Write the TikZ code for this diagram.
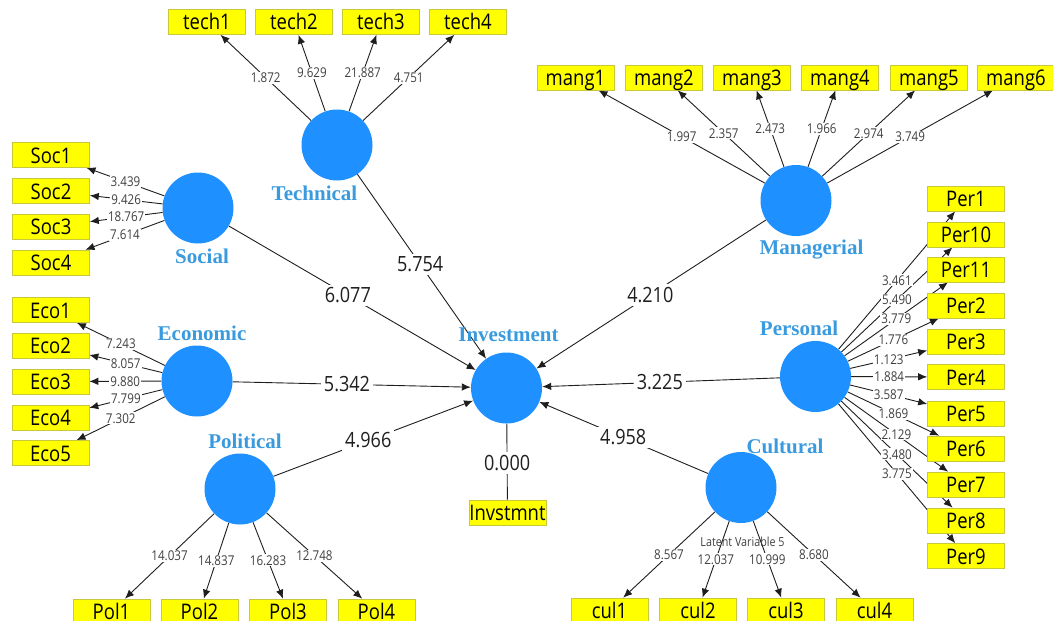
\documentclass[tikz,border=0pt]{standalone}
\usepackage{fontspec}
\setmainfont{Open Sans}
\newfontfamily\condfont[FakeStretch=0.86]{Open Sans}
\newfontfamily\lvfont{Liberation Serif}
\usetikzlibrary{arrows.meta}
\pgfdeclarelayer{edges}
\pgfdeclarelayer{labels}
\pgfsetlayers{edges,main,labels}
\definecolor{lvblue}{RGB}{30,144,255}
\definecolor{lvtext}{RGB}{58,154,222}
\definecolor{indfill}{RGB}{255,255,0}
\definecolor{indborder}{RGB}{200,200,60}
\definecolor{linec}{RGB}{30,30,30}
\tikzset{
 lv/.style={circle, fill=lvblue, minimum size=71pt, inner sep=0pt},
 lvname/.style={anchor=base, text=lvtext, font=\lvfont\bfseries\fontsize{21}{21}\selectfont},
 mv/.style={rectangle, fill=indfill, draw=indborder, line width=0.6pt, minimum width=77pt, minimum height=25pt, text height=20.5pt, text depth=4.5pt, inner sep=0pt, font=\condfont\fontsize{21.5}{21.5}\selectfont},
 conn/.style={draw=linec, line width=0.9pt, -{Latex[length=9pt,width=7.5pt]}},
 plainconn/.style={draw=linec, line width=0.9pt},
 sml/.style={fill=white, inner sep=1pt, text=black!75, font=\condfont\fontsize{13.5}{13.5}\selectfont},
 big/.style={fill=white, inner sep=3pt, text=black!88, font=\condfont\fontsize{21}{21}\selectfont},
 note/.style={text=black!75, font=\condfont\fontsize{12.5}{12.5}\selectfont},
}
\newcommand\loadedge[3]{%
 \begin{pgfonlayer}{edges}\draw[conn] (#1) -- (#2);\end{pgfonlayer}%
 \begin{pgfonlayer}{labels}\path (#1) -- (#2) node[sml,pos=0.5] (w-#2) {#3};\end{pgfonlayer}}
\newcommand\pathedge[4]{%
 \begin{pgfonlayer}{edges}\draw[conn] (#1) -- (#2);\end{pgfonlayer}%
 \begin{pgfonlayer}{labels}\path (#1) -- (#2) node[big,pos=#3] (b-#1) {#4};\end{pgfonlayer}}
\begin{document}
\begin{tikzpicture}[x=1pt,y=-1pt]
\useasboundingbox (0,0) rectangle (1053,621);
% latent variables
\node[lv] (tec) at (337,145) {};
\node[lv] (soc) at (198,208) {};
\node[lv] (eco) at (197,381) {};
\node[lv] (pol) at (240,489) {};
\node[lv] (inv) at (506.5,388) {};
\node[lv] (man) at (796,200.5) {};
\node[lv] (per) at (815.5,376.5) {};
\node[lv] (cul) at (741,487.5) {};
% latent names
\node[lvname] (n-tec) at (314.5,200) {Technical};
\node[lvname] (n-soc) at (202,263) {Social};
\node[lvname] (n-eco) at (202,340) {Economic};
\node[lvname] (n-pol) at (245,448) {Political};
\node[lvname] (n-inv) at (508.5,341.5) {Investment};
\node[lvname] (n-man) at (811.5,254) {Managerial};
\node[lvname] (n-per) at (799,335.5) {Personal};
\node[lvname] (n-cul) at (785,453) {Cultural};
\node[note] (lv5) at (742.5,541.7) {Latent Variable 5};
% indicators
\node[mv] (tech1) at (207,22) {tech1};
\node[mv] (tech2) at (294,22) {tech2};
\node[mv] (tech3) at (381,22) {tech3};
\node[mv] (tech4) at (468,22) {tech4};
\node[mv] (soc1) at (51,155) {Soc1};
\node[mv] (soc2) at (51,191) {Soc2};
\node[mv] (soc3) at (51,226.5) {Soc3};
\node[mv] (soc4) at (51,262.5) {Soc4};
\node[mv] (eco1) at (50.5,310) {Eco1};
\node[mv] (eco2) at (50.5,345.5) {Eco2};
\node[mv] (eco3) at (50.5,381.5) {Eco3};
\node[mv] (eco4) at (50.5,417.5) {Eco4};
\node[mv] (eco5) at (50.5,453) {Eco5};
\node[mv] (pol1) at (111.5,611.5) {Pol1};
\node[mv] (pol2) at (199.5,611.5) {Pol2};
\node[mv] (pol3) at (288,611.5) {Pol3};
\node[mv] (pol4) at (376.5,611.5) {Pol4};
\node[mv] (cul1) at (609.5,610.5) {cul1};
\node[mv] (cul2) at (698,610.5) {cul2};
\node[mv] (cul3) at (786,610.5) {cul3};
\node[mv] (cul4) at (874.5,610.5) {cul4};
\node[mv] (mang1) at (575.5,77.5) {mang1};
\node[mv] (mang2) at (664,77.5) {mang2};
\node[mv] (mang3) at (752,77.5) {mang3};
\node[mv] (mang4) at (840,77.5) {mang4};
\node[mv] (mang5) at (929,77.5) {mang5};
\node[mv] (mang6) at (1016,77.5) {mang6};
\node[mv] (per1) at (966,198.5) {Per1};
\node[mv] (per10) at (966,234.5) {Per10};
\node[mv] (per11) at (966,269.5) {Per11};
\node[mv] (per2) at (966,305.5) {Per2};
\node[mv] (per3) at (966,341.5) {Per3};
\node[mv] (per4) at (966,377) {Per4};
\node[mv] (per5) at (966,413.5) {Per5};
\node[mv] (per6) at (966,448.5) {Per6};
\node[mv] (per7) at (966,484.5) {Per7};
\node[mv] (per8) at (966,520.5) {Per8};
\node[mv] (per9) at (966,556) {Per9};
\node[mv] (invm) at (507.5,512.5) {Invstmnt};
% loadings
\loadedge{tec}{tech1}{1.872}
\loadedge{tec}{tech2}{9.629}
\loadedge{tec}{tech3}{21.887}
\loadedge{tec}{tech4}{4.751}
\loadedge{soc}{soc1}{3.439}
\loadedge{soc}{soc2}{9.426}
\loadedge{soc}{soc3}{18.767}
\loadedge{soc}{soc4}{7.614}
\loadedge{eco}{eco1}{7.243}
\loadedge{eco}{eco2}{8.057}
\loadedge{eco}{eco3}{9.880}
\loadedge{eco}{eco4}{7.799}
\loadedge{eco}{eco5}{7.302}
\loadedge{pol}{pol1}{14.037}
\loadedge{pol}{pol2}{14.837}
\loadedge{pol}{pol3}{16.283}
\loadedge{pol}{pol4}{12.748}
\loadedge{cul}{cul1}{8.567}
\loadedge{cul}{cul2}{12.037}
\loadedge{cul}{cul3}{10.999}
\loadedge{cul}{cul4}{8.680}
\loadedge{man}{mang1}{1.997}
\loadedge{man}{mang2}{2.357}
\loadedge{man}{mang3}{2.473}
\loadedge{man}{mang4}{1.966}
\loadedge{man}{mang5}{2.974}
\loadedge{man}{mang6}{3.749}
\loadedge{per}{per1}{3.461}
\loadedge{per}{per10}{5.490}
\loadedge{per}{per11}{3.779}
\loadedge{per}{per2}{1.776}
\loadedge{per}{per3}{1.123}
\loadedge{per}{per4}{1.884}
\loadedge{per}{per5}{3.587}
\loadedge{per}{per6}{1.869}
\loadedge{per}{per7}{2.129}
\loadedge{per}{per8}{3.480}
\loadedge{per}{per9}{3.775}
% structural paths
\pathedge{soc}{inv}{0.482}{6.077}
\pathedge{tec}{inv}{0.488}{5.754}
\pathedge{eco}{inv}{0.48}{5.342}
\pathedge{pol}{inv}{0.475}{4.966}
\pathedge{man}{inv}{0.504}{4.210}
\pathedge{per}{inv}{0.505}{3.225}
\pathedge{cul}{inv}{0.503}{4.958}
\begin{pgfonlayer}{edges}\draw[plainconn] (inv) -- (invm);\end{pgfonlayer}
\begin{pgfonlayer}{labels}\path (inv) -- (invm) node[big,pos=0.516] (b-invm) {0.000};\end{pgfonlayer}
\end{tikzpicture}
\end{document}
